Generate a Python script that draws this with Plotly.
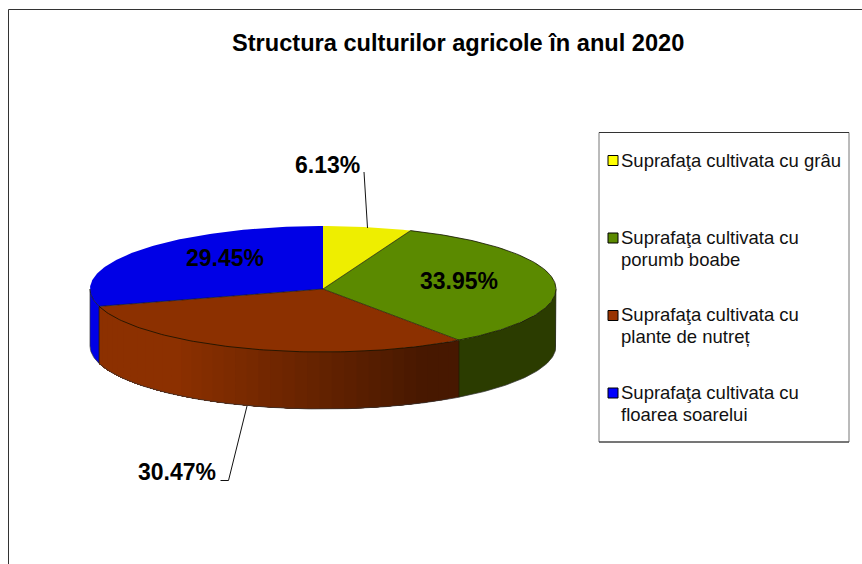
import math
import plotly.graph_objects as go

categories = ["Suprafaţa cultivata cu grâu", "Suprafaţa cultivata cu<br>porumb boabe",
              "Suprafaţa cultivata cu<br>plante de nutreț", "Suprafaţa cultivata cu<br>floarea soarelui"]
values = [6.13, 33.95, 30.47, 29.45]
top_colors = ["#EEEE00", "#5B8A00", "#8C3000", "#0000E6"]
side_colors = ["#8A8A00", "#2B3C00", "#8C3000", "#0000E6"]
legend_colors = ["#FFFF00", "#5B8A00", "#993300", "#0000FF"]
title = "Structura culturilor agricole în anul 2020"

CX, CY, RX, RY, DEPTH = 323, 289, 233, 63, 57
FONT = "Liberation Sans, Arial, sans-serif"


def pt(deg, dy=0):
    a = math.radians(deg)
    return CX + RX * math.sin(a), CY - RY * math.cos(a) + dy


def arc(a0, a1, dy=0, step=1.0):
    n = max(2, int(abs(a1 - a0) / step) + 1)
    return [pt(a0 + (a1 - a0) * i / (n - 1), dy) for i in range(n)]


def lerp_hex(c0, c1, t):
    p = [int(c0[i:i + 2], 16) for i in (1, 3, 5)]
    q = [int(c1[i:i + 2], 16) for i in (1, 3, 5)]
    return "#%02X%02X%02X" % tuple(round(a + (b - a) * t) for a, b in zip(p, q))


def add_poly(pts, fill, line_color=None, width=0):
    fig.add_trace(go.Scatter(x=[p[0] for p in pts] + [pts[0][0]], y=[p[1] for p in pts] + [pts[0][1]],
                             mode="lines", fill="toself", fillcolor=fill,
                             line=dict(color=line_color or fill, width=width),
                             hoverinfo="skip", showlegend=False))


def add_line(pts, color, width):
    fig.add_trace(go.Scatter(x=[p[0] for p in pts], y=[p[1] for p in pts], mode="lines",
                             line=dict(color=color, width=width), hoverinfo="skip", showlegend=False))


fig = go.Figure()
total = sum(values)
edges = [0]
for v in values:
    edges.append(edges[-1] + v / total * 360)

# side wall (front half only)
for i, col in enumerate(side_colors):
    a0, a1 = max(edges[i], 90), min(edges[i + 1], 270)
    if a1 <= a0:
        continue
    if i == 2:
        # gradient: strips painted right-to-left in x, each one overlapping the next
        n = int((a1 - a0) / 3)
        for k in range(n):
            s0 = a0 + (a1 - a0) * k / n
            xm = pt(s0 + (a1 - a0) / n / 2)[0]
            c = lerp_hex("#8C3000", "#471800", min(1, max(0, (xm - 175) / 250)))
            add_poly(arc(s0, a1) + arc(a1, s0, DEPTH), c)
    else:
        add_poly(arc(a0, a1) + arc(a1, a0, DEPTH), col)

# side wall outline
add_line([pt(90)] + arc(90, 270, DEPTH) + [pt(270)], "#333333", 0.7)
for e in edges[1:-1]:
    if 90 < e < 270:
        p = pt(e)
        add_line([p, (p[0], p[1] + DEPTH)], "#1A1A00", 0.7)

# top face slices
for i, col in enumerate(top_colors):
    add_poly([(CX, CY)] + arc(edges[i], edges[i + 1]), col)
# slice borders and the front rim
for e in edges[1:3]:
    add_line([(CX, CY), pt(e)], "#1A1A00", 0.7)
add_line([(CX, CY), pt(edges[3])], "#1A1A00", 0.7)
add_line(arc(edges[1], edges[3]), "#111100", 0.8)
add_line(arc(edges[3], 270), "#111100", 0.7)

# legend
legend_swatch_y = [160.5, 238, 315.5, 393]
legend_text_y = [[160], [237, 259], [314, 336], [392, 414]]
shapes = [
    dict(type="line", x0=8.5, y0=564, x1=8.5, y1=9.5, line=dict(color="#333333", width=1)),
    dict(type="line", x0=8.5, y0=9.5, x1=862, y1=9.5, line=dict(color="#333333", width=1)),
    dict(type="rect", x0=599, y0=132.5, x1=849, y1=442, line=dict(color="#777777", width=1), fillcolor="white", layer="below"),
    dict(type="line", x0=599, y0=132.5, x1=849, y1=132.5, line=dict(color="#333333", width=1)),
    dict(type="line", x0=599, y0=442, x1=849, y1=442, line=dict(color="#333333", width=1)),
    dict(type="line", x0=364, y0=172, x1=367.5, y1=228, line=dict(color="#111111", width=1)),
    dict(type="line", x0=247, y0=406, x1=228.5, y1=480.5, line=dict(color="#111111", width=1)),
    dict(type="line", x0=228.5, y0=480.5, x1=220.5, y1=480.5, line=dict(color="#111111", width=1)),
]
annotations = [
    dict(x=458, y=43, text=f"<b>{title}</b>", font=dict(size=23.6, family=FONT, color="black"), showarrow=False),
]
for c, yc, yts, col in zip(categories, legend_swatch_y, legend_text_y, legend_colors):
    shapes.append(dict(type="rect", x0=608, y0=yc - 5, x1=618, y1=yc + 5, line=dict(color="black", width=1), fillcolor=col))
    for part, yt in zip(c.split("<br>"), yts):
        annotations.append(dict(x=619, y=yt, text=part, xanchor="left", align="left", showarrow=False,
                                font=dict(size=18.5, family=FONT, color="#111111")))

label_xy = [(327, 165), (459, 281), (177, 472), (225, 258)]
for v, (lx, ly) in zip(values, label_xy):
    annotations.append(dict(x=lx, y=ly, text=f"<b>{v:.2f}%</b>", showarrow=False,
                            font=dict(size=23, family=FONT, color="black")))

fig.update_layout(
    width=862, height=564, margin=dict(l=0, r=0, t=0, b=0), paper_bgcolor="white", plot_bgcolor="white",
    xaxis=dict(range=[0, 862], visible=False, fixedrange=True),
    yaxis=dict(range=[564, 0], visible=False, fixedrange=True),
    shapes=shapes, annotations=annotations, showlegend=False,
)
fig.write_html("out.html", config=dict(displayModeBar=False),
               post_script="document.body.style.margin='0';document.body.style.overflow='hidden';")
